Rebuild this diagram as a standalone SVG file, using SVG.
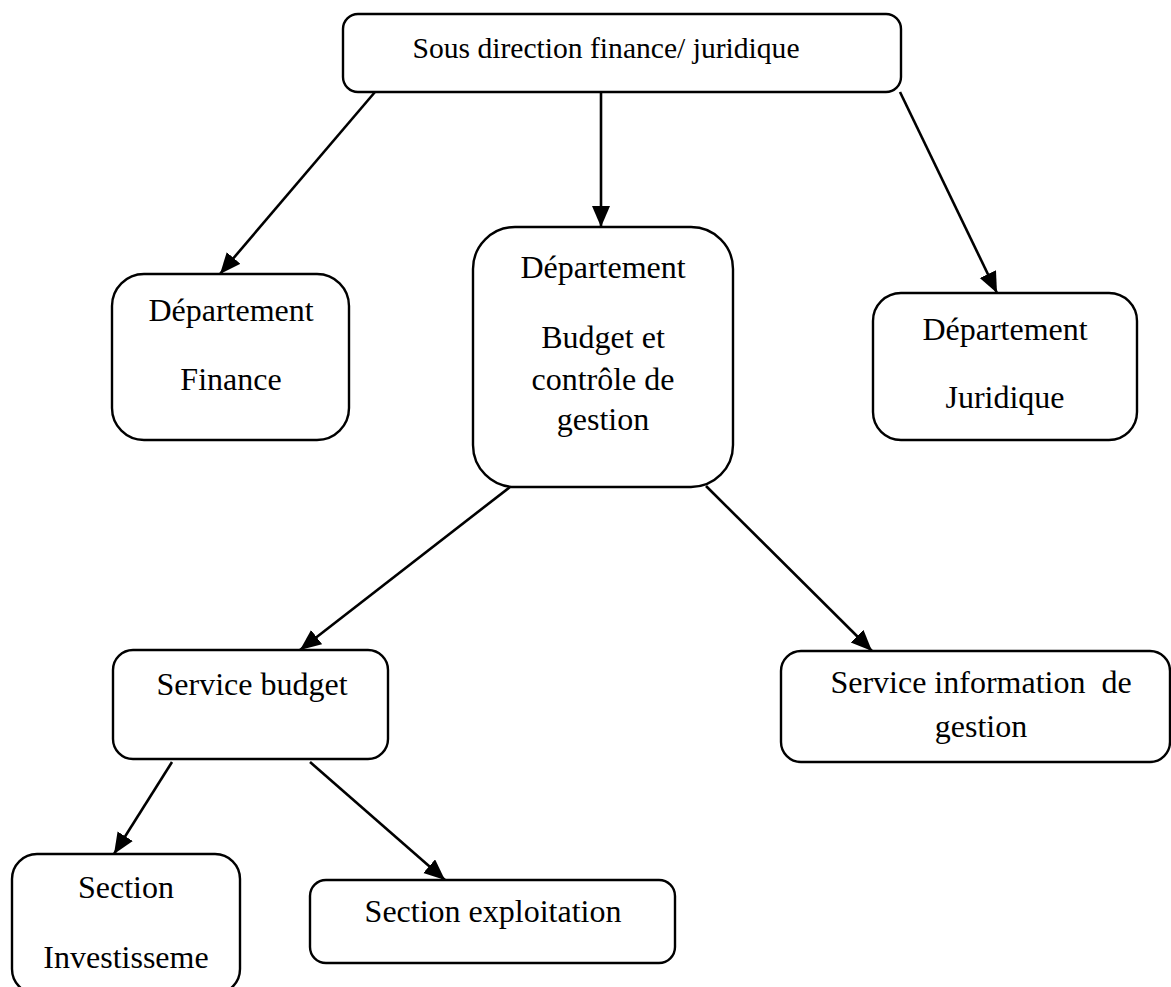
<svg xmlns="http://www.w3.org/2000/svg" width="1171" height="987" viewBox="0 0 1171 987">
  <style>
    .box { fill: #ffffff; stroke: #000000; stroke-width: 2.4; }
    .lbl { font-family: "Liberation Serif", "Times New Roman", serif; font-size: 32px; fill: #000000; text-anchor: middle; white-space: pre; }
    .title { font-size: 29.6px; }
    .edge { stroke: #000000; stroke-width: 2.6; fill: none; marker-end: url(#arrow); }
  </style>
  <defs>
    <marker id="arrow" markerUnits="userSpaceOnUse" markerWidth="24" markerHeight="20" refX="21" refY="9" orient="auto">
      <path d="M0,0 L21,9 L0,18 z" fill="#000000"/>
    </marker>
  </defs>
  <rect width="1171" height="987" fill="#ffffff"/>

  <!-- connectors -->
  <g id="connectors">
    <line class="edge" x1="375" y1="92" x2="220" y2="274"/>
    <line class="edge" x1="601" y1="92" x2="601" y2="227"/>
    <line class="edge" x1="900" y1="92" x2="997" y2="293"/>
    <line class="edge" x1="510" y1="487" x2="300" y2="650"/>
    <line class="edge" x1="706" y1="486" x2="872" y2="651"/>
    <line class="edge" x1="172" y1="762" x2="114" y2="854"/>
    <line class="edge" x1="310" y1="762" x2="445" y2="880"/>
  </g>

  <!-- nodes -->
  <g id="sous-direction">
    <rect class="box" x="343" y="14" width="558" height="78" rx="15"/>
    <text class="lbl title" x="606" y="58">Sous direction finance/ juridique</text>
  </g>

  <g id="dept-finance">
    <rect class="box" x="112" y="274" width="237" height="166" rx="32"/>
    <text class="lbl" x="231" y="321">Département</text>
    <text class="lbl" x="231" y="390">Finance</text>
  </g>

  <g id="dept-budget">
    <rect class="box" x="473" y="227" width="260" height="260" rx="42"/>
    <text class="lbl" x="603" y="278">Département</text>
    <text class="lbl" x="603" y="348">Budget et</text>
    <text class="lbl" x="603" y="390">contrôle de</text>
    <text class="lbl" x="603" y="430">gestion</text>
  </g>

  <g id="dept-juridique">
    <rect class="box" x="873" y="293" width="264" height="147" rx="28"/>
    <text class="lbl" x="1005" y="340">Département</text>
    <text class="lbl" x="1005" y="408">Juridique</text>
  </g>

  <g id="service-budget">
    <rect class="box" x="113" y="650" width="275" height="109" rx="20"/>
    <text class="lbl" x="252" y="695">Service budget</text>
  </g>

  <g id="service-information">
    <rect class="box" x="781" y="651" width="389" height="111" rx="20"/>
    <text class="lbl" x="981" y="693">Service information  de</text>
    <text class="lbl" x="981" y="737">gestion</text>
  </g>

  <g id="section-investissement">
    <rect class="box" x="12" y="854" width="228" height="140" rx="25"/>
    <text class="lbl" x="126" y="898">Section</text>
    <text class="lbl" x="126" y="968">Investisseme</text>
  </g>

  <g id="section-exploitation">
    <rect class="box" x="310" y="880" width="365" height="83" rx="16"/>
    <text class="lbl" x="493" y="922">Section exploitation</text>
  </g>
</svg>
